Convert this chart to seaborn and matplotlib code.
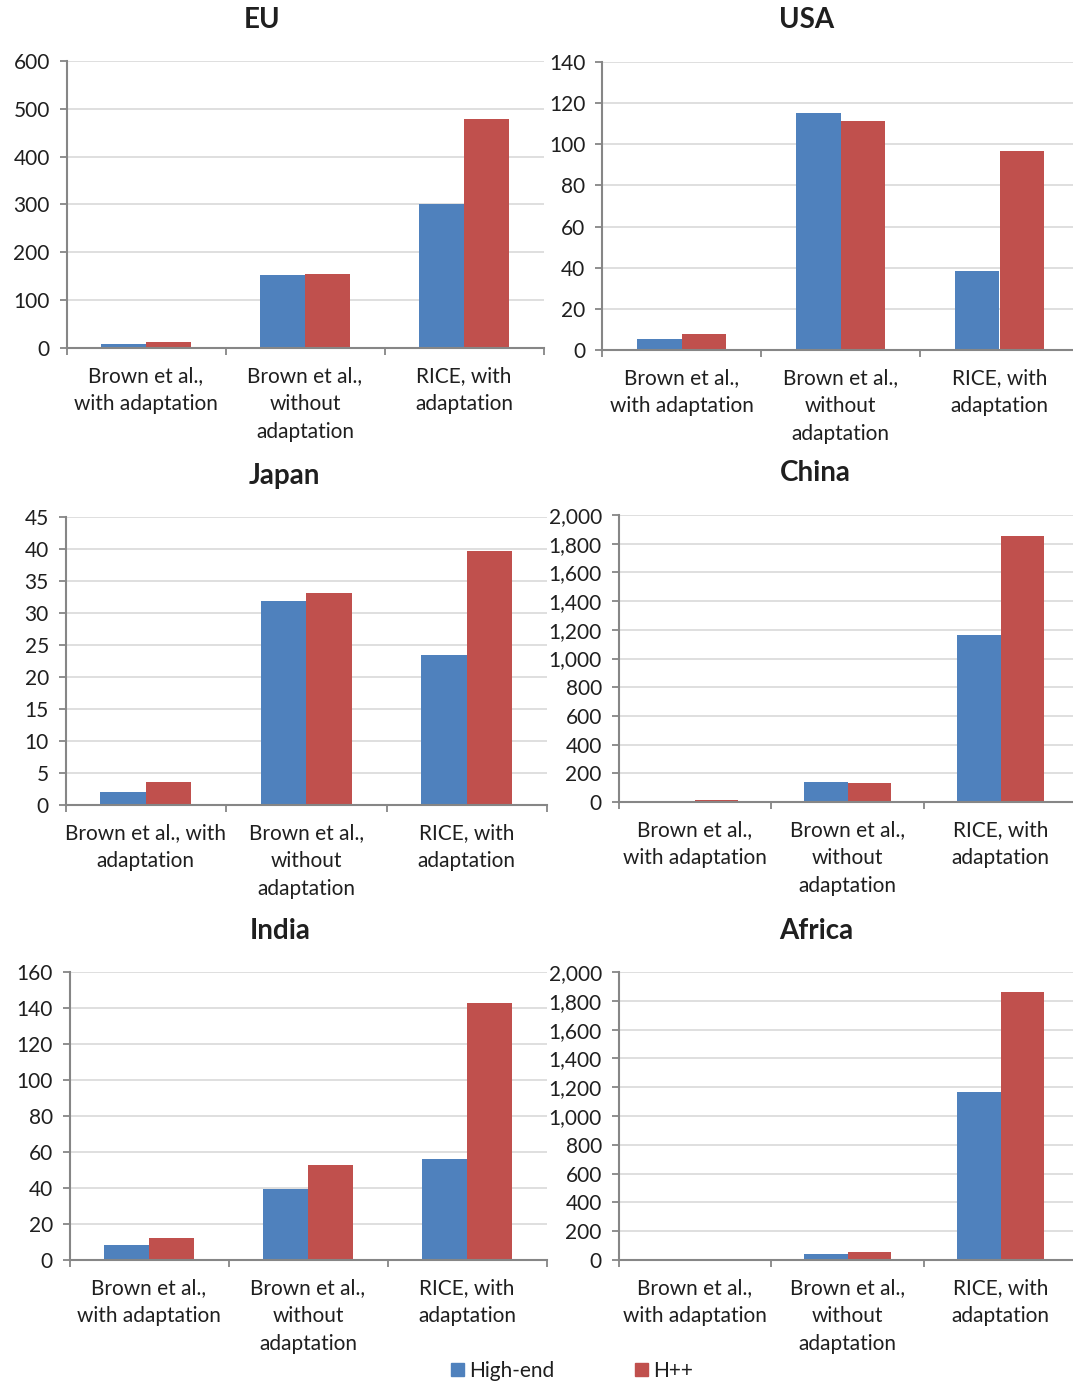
import numpy as np
import pandas as pd
import seaborn as sns
import matplotlib
matplotlib.use('Agg')
import matplotlib.pyplot as plt
from matplotlib.ticker import MultipleLocator, FuncFormatter, FixedLocator

# --- data ---
scenarios = ["High-end", "H++"]
categories = ["brown_adapt", "brown_noadapt", "rice_adapt"]

labels_std = ["Brown et al.,\nwith adaptation", "Brown et al.,\nwithout\nadaptation", "RICE, with\nadaptation"]
labels_japan = ["Brown et al., with\nadaptation", "Brown et al.,\nwithout\nadaptation", "RICE, with\nadaptation"]

eu_high = [9, 153, 300]
eu_hpp = [13, 155, 478]
usa_high = [5.3, 115.2, 38.4]
usa_hpp = [7.8, 111.3, 96.7]
japan_high = [2.0, 31.8, 23.5]
japan_hpp = [3.6, 33.2, 39.7]
china_high = [5, 139, 1164]
china_hpp = [12, 132, 1854]
india_high = [8.3, 39.5, 56.2]
india_hpp = [12.3, 52.9, 142.8]
africa_high = [4, 42, 1167]
africa_hpp = [9, 56, 1862]

regions = ["EU", "USA", "Japan", "China", "India", "Africa"]
high_vals = [eu_high, usa_high, japan_high, china_high, india_high, africa_high]
hpp_vals = [eu_hpp, usa_hpp, japan_hpp, china_hpp, india_hpp, africa_hpp]
tick_labels = [labels_std, labels_std, labels_japan, labels_std, labels_std, labels_std]
y_max = [600, 140, 45, 2000, 160, 2000]
y_step = [100, 20, 5, 200, 20, 200]

# --- layout (pixel boxes: left, right, top, bottom) ---
W, H = 1073, 1384
boxes = [(66.5, 543.5, 61, 348), (602, 1079, 62, 350),
         (65.5, 547, 517, 805), (618.5, 1077, 515, 802),
         (69.5, 546.5, 972, 1260), (618.5, 1077, 972, 1260)]
title_pos = [(262, 20), (807, 20), (284, 476), (815, 473), (280, 931), (816, 931)]

BLUE = "#4f81bd"
RED = "#c0504d"
SPINE = "#868686"
GRID = "#d9d9d9"
TEXT = "#1f1f1f"

sns.set_theme(style="white")
plt.rcParams['font.family'] = ['Lato', 'DejaVu Sans']

fig = plt.figure(figsize=(W / 100, H / 100), dpi=100)

for i, region in enumerate(regions):
    x0, x1, yt, yb = boxes[i]
    ax = fig.add_axes([x0 / W, 1 - yb / H, (x1 - x0) / W, (yb - yt) / H])

    df = pd.DataFrame({
        "category": categories * 2,
        "scenario": [scenarios[0]] * 3 + [scenarios[1]] * 3,
        "value": list(high_vals[i]) + list(hpp_vals[i]),
    })
    sns.barplot(data=df, x="category", y="value", hue="scenario",
                palette=[BLUE, RED], width=0.566, errorbar=None,
                saturation=1, linewidth=0, legend=False, ax=ax, zorder=3)

    ax.set_xlim(-0.5, 2.5)
    ax.set_ylim(0, y_max[i])
    ax.yaxis.set_major_locator(MultipleLocator(y_step[i]))
    if y_max[i] >= 1000:
        ax.yaxis.set_major_formatter(FuncFormatter(lambda v, p: f"{v:,.0f}"))
    ax.grid(axis='y', color=GRID, linewidth=1.2, zorder=0)
    ax.set_axisbelow(True)

    for side in ["top", "right"]:
        ax.spines[side].set_visible(False)
    for side in ["left", "bottom"]:
        ax.spines[side].set_color(SPINE)
        ax.spines[side].set_linewidth(1.5)
        ax.spines[side].set_zorder(4)

    ax.set_xticks([0, 1, 2])
    ax.set_xticklabels(tick_labels[i], fontsize=15, color=TEXT, linespacing=1.5)
    ax.xaxis.set_minor_locator(FixedLocator([-0.5, 0.5, 1.5, 2.5]))
    ax.tick_params(axis='x', which='major', length=0, pad=13)
    ax.tick_params(axis='x', which='minor', length=5, width=1.3, color=SPINE, direction='out', bottom=True)
    ax.tick_params(axis='y', length=5, width=1.3, color=SPINE, direction='out', left=True,
                   labelsize=15, labelcolor=TEXT, pad=7)
    ax.set_xlabel("")
    ax.set_ylabel("")

    tx, ty = title_pos[i]
    fig.text(tx / W, 1 - ty / H, region, ha='center', va='center',
             fontsize=20, fontweight='bold', color=TEXT)

handles = [plt.Rectangle((0, 0), 1, 1, color=BLUE), plt.Rectangle((0, 0), 1, 1, color=RED)]
fig.legend(handles, scenarios, loc='center', bbox_to_anchor=(572 / W, 1 - 1371 / H),
           ncol=2, frameon=False, fontsize=15, handlelength=0.6, handleheight=0.6,
           handletextpad=0.25, columnspacing=3.9, labelcolor=TEXT)

fig.savefig("out.png", dpi=100)
